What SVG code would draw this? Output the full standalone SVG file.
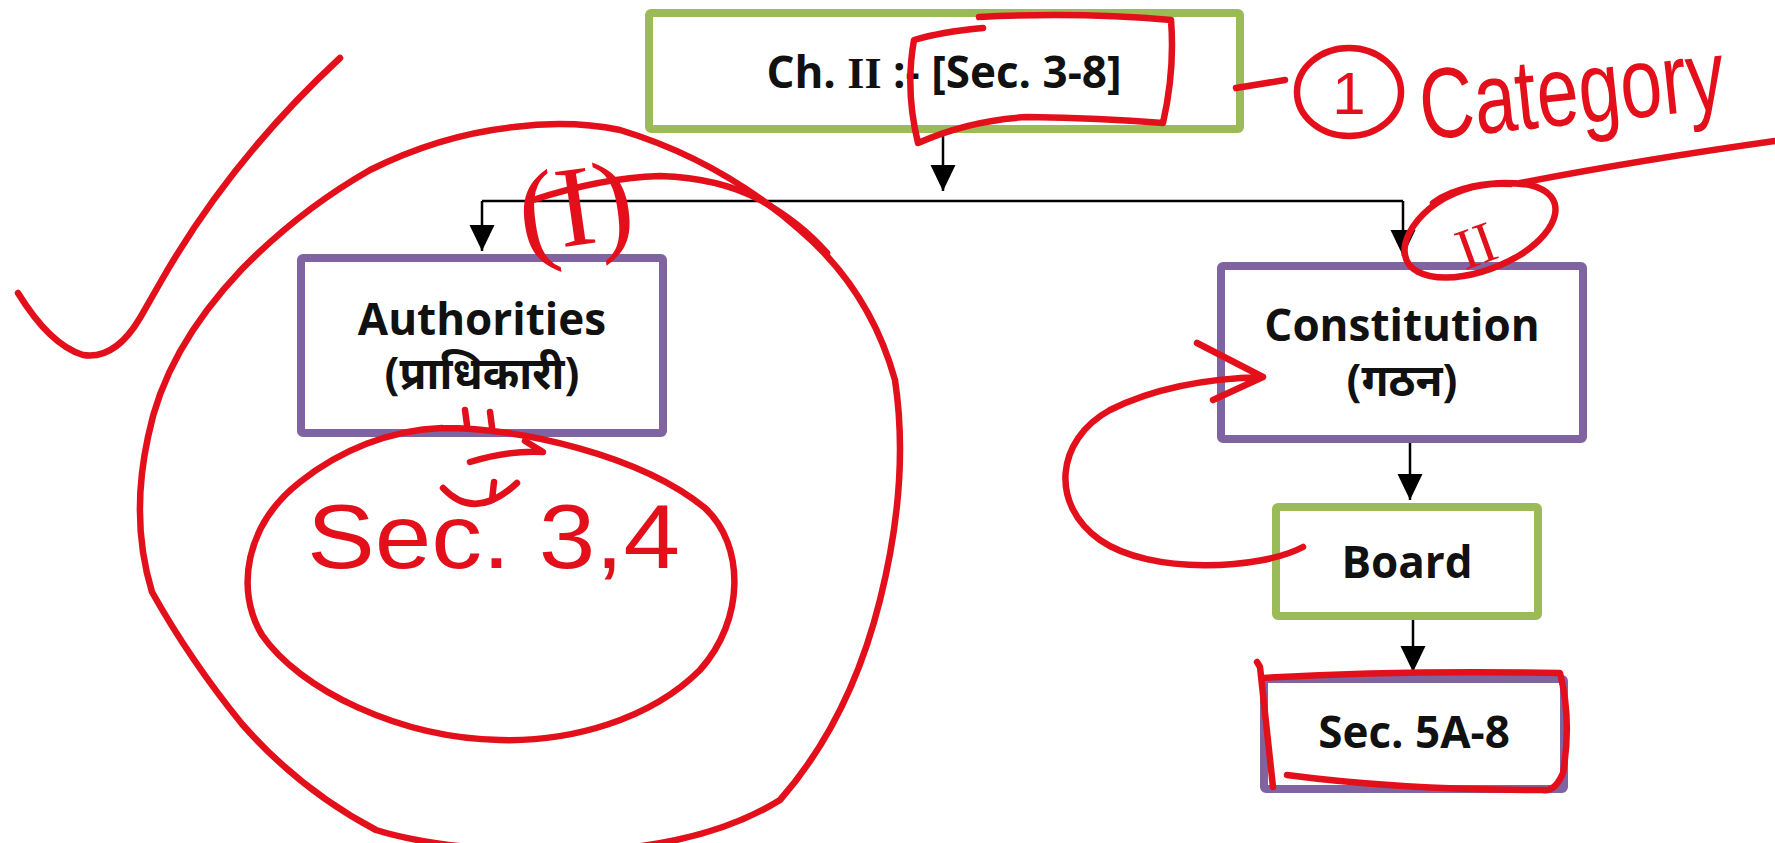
<svg xmlns="http://www.w3.org/2000/svg" width="1775" height="843" viewBox="0 0 1775 843">
<style>
.box{fill:#fff;stroke-width:8}
.g{stroke:#9BBB59}
.p{stroke:#8064A2}
.t{font-family:"Open Sans","Noto Sans",sans-serif;font-weight:700;font-size:44px;fill:#111;text-anchor:middle}
.c{stroke:#000;stroke-width:2.5;fill:none}
.r{stroke:#E3101B;stroke-width:6.5;fill:none;stroke-linecap:round;stroke-linejoin:round}
.rt{fill:#E3101B;font-family:"Liberation Sans",sans-serif}
.rs{fill:#E3101B;font-family:"Liberation Serif",serif}
</style>
<defs>
<marker id="ah" markerUnits="userSpaceOnUse" markerWidth="26" markerHeight="26" refX="26" refY="12.5" orient="auto">
<path d="M0,0 L26,12.5 L0,25 z" fill="#000"/>
</marker>
</defs>
<rect width="1775" height="843" fill="#fff"/>
<g id="connectors">
<path class="c" d="M943,133 L943,191" marker-end="url(#ah)"/>
<path class="c" d="M482,201 L1403,201"/>
<path class="c" d="M482,201 L482,251" marker-end="url(#ah)"/>
<path class="c" d="M1403,201 L1403,256" marker-end="url(#ah)"/>
<path class="c" d="M1410,443 L1410,500" marker-end="url(#ah)"/>
<path class="c" d="M1413,620 L1413,672" marker-end="url(#ah)"/>
</g>
<g id="chapter">
<rect class="box g" x="649" y="13" width="591" height="116" rx="2"/>
<text class="t" x="944" y="88">Ch. <tspan font-family="Liberation Serif">II</tspan> :- [Sec. 3-8]</text>
</g>
<g id="authorities">
<rect class="box p" x="301" y="258" width="362" height="175" rx="2"/>
<text class="t" x="482" y="335">Authorities</text>
<text class="t" x="482" y="389">(प्राधिकारी)</text>
</g>
<g id="constitution">
<rect class="box p" x="1221" y="266" width="362" height="173" rx="2"/>
<text class="t" x="1402" y="341">Constitution</text>
<text class="t" x="1402" y="396">(गठन)</text>
</g>
<g id="board">
<rect class="box g" x="1276" y="507" width="262" height="109" rx="2"/>
<text class="t" x="1407" y="578">Board</text>
</g>
<g id="sections">
<rect class="box p" x="1264" y="679" width="300" height="110" rx="2"/>
<text class="t" x="1414" y="748">Sec. 5A-8</text>
</g>
<g id="annotations">
<path class="r" d="M18,293 Q50,345 83,355 Q115,360 140,318 L160,283 Q230,160 340,58"/>
<path class="r" d="M514,127 Q570,120 620,130 Q720,160 800,230 Q870,290 895,380 Q910,480 880,600 Q850,720 780,800 Q700,850 560,852 Q440,850 376,830 Q300,790 242,724 Q190,660 152,592 Q130,520 148,437 Q165,350 242,269 Q300,210 370,170 Q440,135 514,127"/>
<path class="r" d="M533,200 Q600,178 660,176 Q720,178 760,200 Q800,222 827,253"/>
<path class="r" d="M442,428 C520,428 640,455 705,508 C745,545 745,620 700,670 C650,720 570,742 500,740 C400,738 300,690 262,635 C235,590 245,525 300,482 C340,450 390,430 442,428"/>
<path class="r" d="M470,462 Q510,450 543,452 L525,441"/>
<path class="r" d="M443,488 Q475,522 517,483 M494,482 L492,500 M465,410 L467,425 M490,412 L492,427"/>
<text class="rt" x="307" y="568" font-size="90" textLength="373" lengthAdjust="spacingAndGlyphs">Sec. 3,4</text>
<text class="rs" x="575" y="245" font-size="115" text-anchor="middle" transform="rotate(-8 575 205)">(I)</text>
<path class="r" d="M983,28 Q940,32 914,40 Q905,90 918,143 Q970,120 1028,117 Q1100,118 1163,123 Q1175,70 1171,20 Q1080,12 979,17"/>
<path class="r" d="M1236,88 L1285,80"/>
<ellipse class="r" cx="1349" cy="92" rx="52" ry="44"/>
<text class="rt" x="1349" y="114" font-size="60" text-anchor="middle">1</text>
<text class="rt" x="1423" y="140" font-size="100" textLength="306" lengthAdjust="spacingAndGlyphs" transform="rotate(-6 1423 140)">Category</text>
<path class="r" d="M1510,184 C1440,180 1400,230 1405,255 C1410,285 1470,285 1520,255 C1560,230 1570,195 1530,185 C1490,178 1450,190 1433,203"/>
<path class="r" d="M1520,183 Q1640,160 1775,141"/>
<text class="rs" x="1476" y="265" font-size="58" text-anchor="middle" transform="rotate(-20 1476 245)">II</text>
<path class="r" d="M1303,547 C1260,570 1150,575 1100,540 C1050,505 1055,440 1110,410 C1160,385 1220,378 1263,377 M1197,343 L1263,377 L1213,400"/>
<path class="r" d="M1257,662 L1260,667 L1273,787 M1263,678 Q1400,670 1560,673 Q1572,720 1563,773 Q1555,792 1543,790 Q1400,790 1287,775"/>
</g>
</svg>
